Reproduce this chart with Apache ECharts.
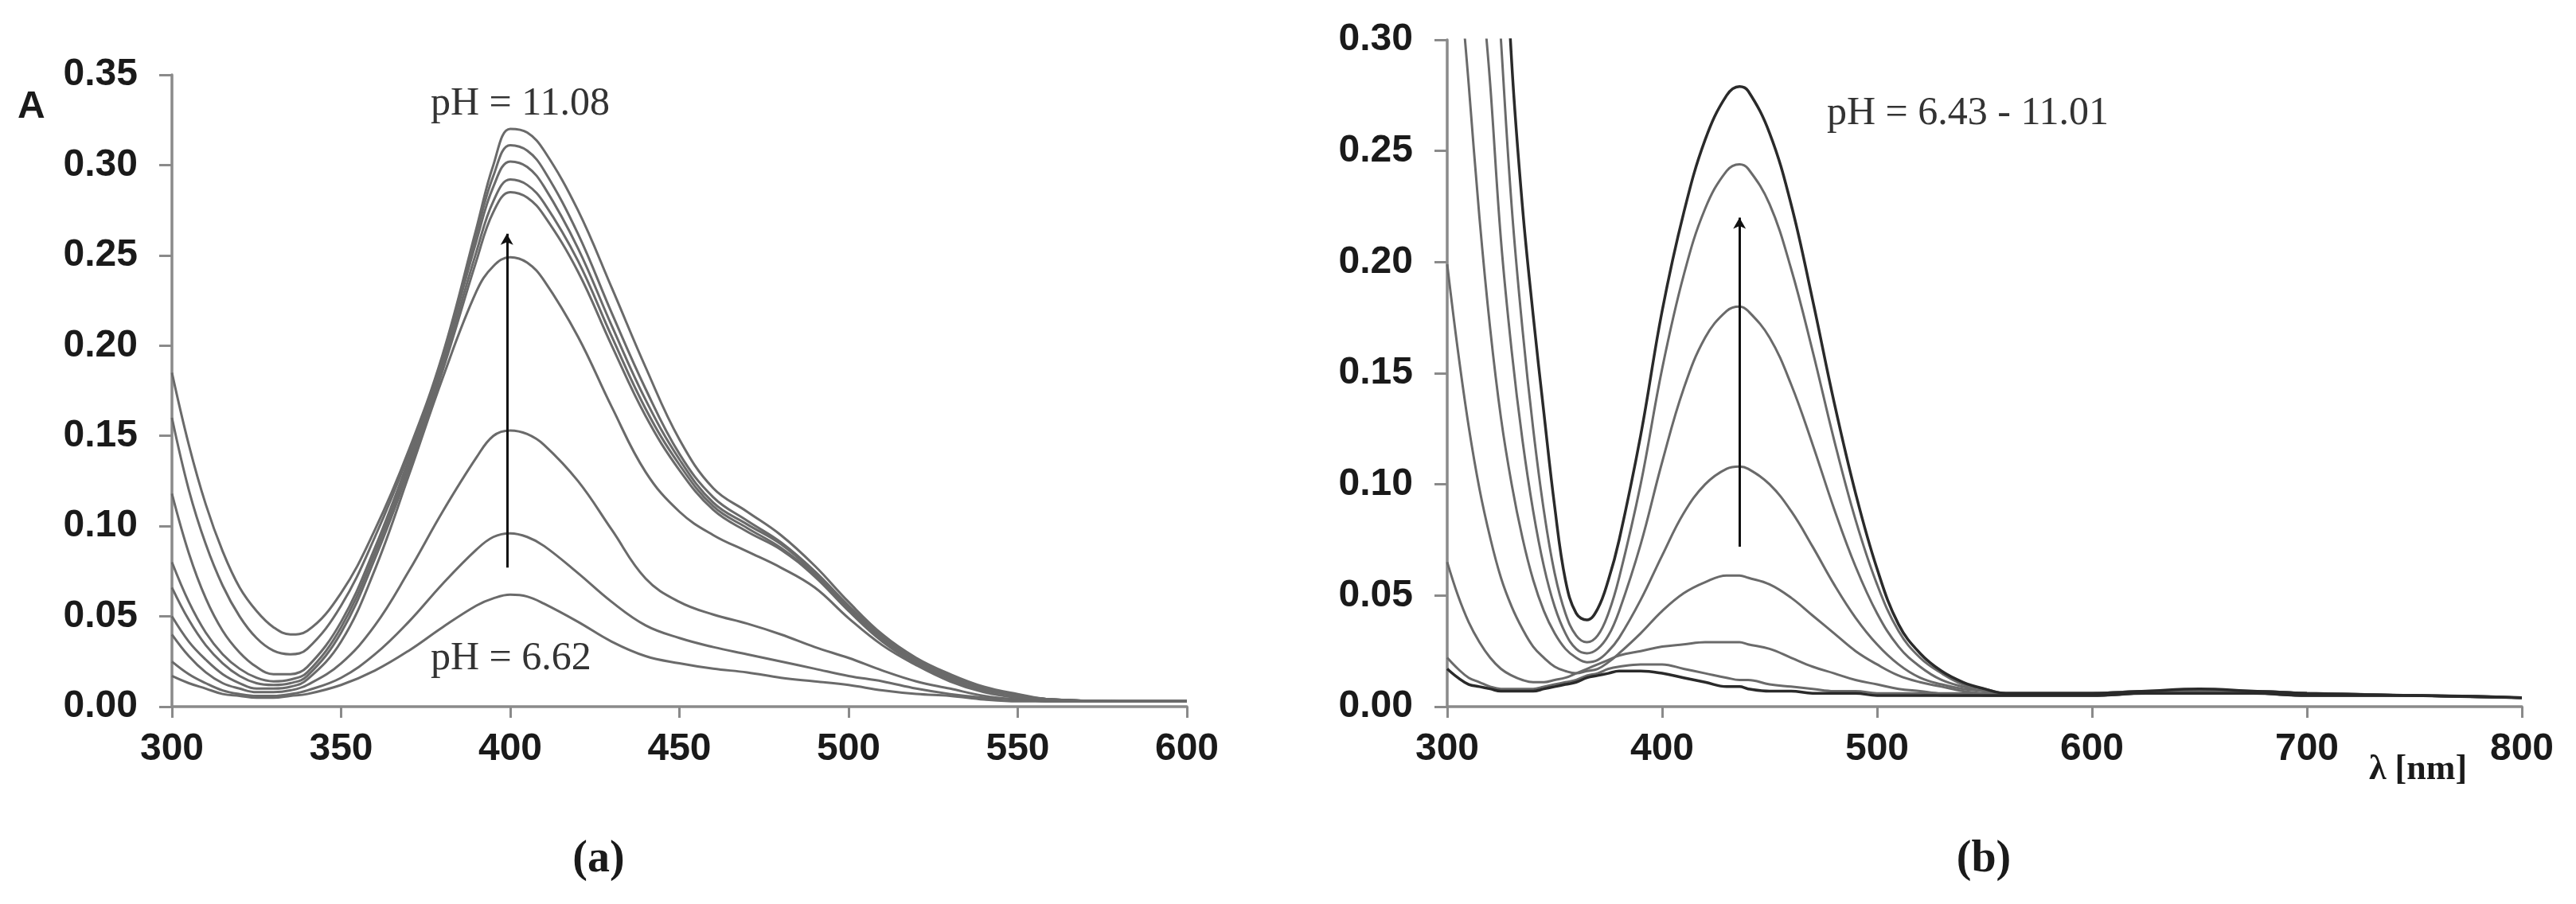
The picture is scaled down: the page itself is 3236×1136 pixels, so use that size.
<!DOCTYPE html>
<html>
<head>
<meta charset="utf-8">
<title>UV-Vis spectra</title>
<script src="https://cdn.jsdelivr.net/npm/echarts/dist/echarts.min.js"></script>
<style>
  html, body { margin: 0; padding: 0; background: #fff; }
  #chart { width: 3236px; height: 1136px; }
</style>
</head>
<body>
<div id="chart"></div>
<script>
// panel (a): wavelengths and absorbance, pH 11.08 down to pH 6.62
var waveA = [300,305,310,315,320,325,330,335,340,350,360,370,380,390,395,400,405,410,420,430,440,450,460,470,480,490,500,510,520,530,540,550,560,580,600];
var a1 = [0.185,0.145,0.112,0.086,0.066,0.053,0.044,0.040,0.042,0.063,0.098,0.142,0.195,0.265,0.300,0.320,0.318,0.308,0.275,0.232,0.188,0.148,0.121,0.108,0.095,0.078,0.058,0.040,0.027,0.018,0.011,0.007,0.004,0.003,0.003];
var a2 = [0.160,0.120,0.090,0.067,0.050,0.038,0.031,0.029,0.032,0.056,0.094,0.140,0.194,0.262,0.294,0.311,0.308,0.297,0.262,0.218,0.176,0.140,0.116,0.103,0.091,0.075,0.056,0.039,0.026,0.017,0.010,0.006,0.004,0.003,0.003];
var a3 = [0.118,0.085,0.060,0.042,0.030,0.022,0.018,0.018,0.022,0.047,0.088,0.137,0.192,0.258,0.288,0.302,0.299,0.288,0.254,0.211,0.170,0.137,0.113,0.101,0.090,0.074,0.055,0.038,0.026,0.017,0.010,0.006,0.004,0.003,0.003];
var a4 = [0.080,0.058,0.041,0.029,0.021,0.016,0.014,0.015,0.019,0.044,0.085,0.134,0.189,0.252,0.280,0.292,0.289,0.279,0.247,0.205,0.165,0.134,0.111,0.099,0.088,0.073,0.054,0.037,0.025,0.016,0.010,0.006,0.004,0.003,0.003];
var a5 = [0.066,0.048,0.034,0.024,0.017,0.013,0.012,0.013,0.017,0.041,0.082,0.131,0.186,0.247,0.274,0.285,0.282,0.272,0.241,0.200,0.161,0.131,0.109,0.097,0.087,0.072,0.053,0.036,0.024,0.015,0.009,0.006,0.004,0.003,0.003];
var a6 = [0.050,0.036,0.026,0.018,0.013,0.010,0.010,0.011,0.015,0.036,0.076,0.128,0.182,0.230,0.244,0.249,0.246,0.236,0.205,0.166,0.130,0.108,0.095,0.086,0.077,0.066,0.049,0.034,0.023,0.014,0.008,0.005,0.004,0.003,0.003];
var a7 = [0.040,0.028,0.019,0.013,0.010,0.008,0.008,0.009,0.012,0.024,0.045,0.075,0.108,0.138,0.150,0.153,0.151,0.145,0.125,0.098,0.071,0.058,0.051,0.046,0.040,0.033,0.027,0.020,0.014,0.010,0.006,0.004,0.003,0.003,0.003];
var a8 = [0.025,0.018,0.013,0.009,0.007,0.006,0.006,0.007,0.009,0.016,0.029,0.047,0.068,0.087,0.094,0.096,0.094,0.089,0.074,0.058,0.045,0.038,0.033,0.029,0.025,0.021,0.017,0.014,0.010,0.007,0.005,0.004,0.003,0.003,0.003];
var a9 = [0.017,0.013,0.010,0.007,0.006,0.005,0.005,0.006,0.007,0.012,0.020,0.031,0.044,0.056,0.060,0.062,0.061,0.057,0.047,0.036,0.028,0.024,0.021,0.019,0.016,0.014,0.012,0.009,0.007,0.006,0.004,0.003,0.003,0.003,0.003];

// panel (b): pH 11.01 down to pH 6.43
var waveB = [300,305,310,315,320,325,330,335,340,345,350,355,360,365,370,375,380,390,400,410,420,430,436,440,450,460,470,480,490,500,510,520,530,540,550,560,580,600,625,650,675,700,750,800];
var b1 = [1.10,0.95,0.80,0.65,0.50,0.39,0.29,0.225,0.176,0.132,0.090,0.057,0.042,0.039,0.044,0.057,0.075,0.122,0.178,0.222,0.255,0.275,0.279,0.277,0.258,0.226,0.183,0.137,0.096,0.062,0.037,0.024,0.016,0.011,0.008,0.006,0.006,0.006,0.007,0.008,0.007,0.006,0.005,0.004];
var b2 = [0.90,0.75,0.61,0.49,0.38,0.30,0.225,0.170,0.125,0.088,0.060,0.042,0.032,0.029,0.032,0.042,0.058,0.100,0.152,0.194,0.224,0.241,0.244,0.242,0.226,0.197,0.160,0.120,0.084,0.055,0.034,0.022,0.015,0.010,0.008,0.006,0.006,0.006,0.007,0.007,0.007,0.006,0.005,0.004];
var b3 = [0.70,0.54,0.43,0.34,0.28,0.21,0.16,0.12,0.088,0.063,0.045,0.033,0.026,0.024,0.026,0.032,0.043,0.073,0.110,0.143,0.166,0.178,0.180,0.178,0.166,0.145,0.118,0.089,0.063,0.042,0.027,0.018,0.012,0.009,0.007,0.006,0.006,0.006,0.007,0.007,0.007,0.006,0.005,0.004];
var b4 = [0.42,0.34,0.28,0.22,0.17,0.13,0.10,0.076,0.057,0.043,0.033,0.026,0.022,0.020,0.021,0.025,0.031,0.048,0.068,0.087,0.100,0.107,0.108,0.107,0.100,0.088,0.072,0.055,0.040,0.028,0.019,0.013,0.010,0.008,0.007,0.006,0.006,0.006,0.007,0.007,0.007,0.006,0.005,0.004];
var b5 = [0.199,0.160,0.126,0.098,0.076,0.058,0.045,0.035,0.027,0.022,0.018,0.016,0.015,0.016,0.017,0.020,0.024,0.033,0.043,0.051,0.056,0.059,0.059,0.058,0.055,0.049,0.041,0.033,0.025,0.019,0.014,0.011,0.009,0.007,0.006,0.006,0.006,0.006,0.006,0.007,0.006,0.006,0.005,0.004];
var b6 = [0.065,0.050,0.038,0.029,0.022,0.017,0.014,0.012,0.011,0.011,0.012,0.013,0.015,0.017,0.019,0.021,0.023,0.025,0.027,0.028,0.029,0.029,0.029,0.028,0.026,0.022,0.018,0.015,0.012,0.010,0.008,0.007,0.006,0.006,0.005,0.005,0.005,0.005,0.006,0.006,0.006,0.005,0.005,0.004];
var b7 = [0.022,0.017,0.013,0.011,0.009,0.008,0.008,0.008,0.008,0.009,0.010,0.011,0.012,0.014,0.015,0.017,0.018,0.019,0.019,0.017,0.015,0.013,0.012,0.012,0.010,0.009,0.008,0.007,0.007,0.006,0.006,0.006,0.005,0.005,0.005,0.005,0.005,0.005,0.006,0.006,0.006,0.005,0.005,0.004];
var b8 = [0.017,0.013,0.010,0.009,0.008,0.007,0.007,0.007,0.007,0.008,0.009,0.010,0.011,0.013,0.014,0.015,0.016,0.016,0.015,0.013,0.011,0.009,0.009,0.008,0.007,0.007,0.006,0.006,0.006,0.005,0.005,0.005,0.005,0.005,0.005,0.005,0.005,0.005,0.006,0.006,0.006,0.005,0.005,0.004];

// arrows (start, end) in data units
var arrowA = [[399, 0.077], [399, 0.262]];
var arrowB = [[436, 0.072], [436, 0.220]];

var curvesA = [a1, a2, a3, a4, a5, a6, a7, a8, a9];
var curvesB = [b1, b2, b3, b4, b5, b6, b7, b8];
var darkB = [0, 7];

var chart = echarts.init(document.getElementById('chart'), null, { renderer: 'canvas' });

var SANS = '"Liberation Sans", Arial, sans-serif';
var SERIF = '"Liberation Serif", "Times New Roman", serif';
var AXIS_GREY = '#8a8a8a';

function pairs(xs, ys) {
  return xs.map(function (x, i) { return [x, ys[i]]; });
}

function xAxisFor(idx, min, max, step) {
  return {
    type: 'value', gridIndex: idx, min: min, max: max, interval: step,
    axisLine: { show: true, onZero: false, lineStyle: { color: AXIS_GREY, width: 3.5 } },
    axisTick: { show: true, inside: false, length: 14, lineStyle: { color: AXIS_GREY, width: 3 } },
    axisLabel: { color: '#1a1a1a', fontFamily: SANS, fontWeight: 'bold', fontSize: 48, margin: 30 },
    splitLine: { show: false }
  };
}

function yAxisFor(idx, max) {
  return {
    type: 'value', gridIndex: idx, min: 0, max: max, interval: 0.05,
    axisLine: { show: true, onZero: false, lineStyle: { color: AXIS_GREY, width: 3.5 } },
    axisTick: { show: true, inside: false, length: 16, lineStyle: { color: AXIS_GREY, width: 3 } },
    axisLabel: {
      color: '#1a1a1a', fontFamily: SANS, fontWeight: 'bold', fontSize: 48, margin: 43,
      formatter: function (v) { return v.toFixed(2); }
    },
    splitLine: { show: false }
  };
}

var series = [];
curvesA.forEach(function (c) {
  series.push({
    type: 'line', xAxisIndex: 0, yAxisIndex: 0, data: pairs(waveA, c),
    smooth: 0.4, symbol: 'none', clip: true, z: 2,
    lineStyle: { color: '#6a6a6a', width: 3 }
  });
});
curvesB.forEach(function (c, i) {
  var dark = darkB.indexOf(i) >= 0;
  series.push({
    type: 'line', xAxisIndex: 1, yAxisIndex: 1, data: pairs(waveB, c),
    smooth: 0.4, symbol: 'none', clip: true, z: dark ? 3 : 2,
    lineStyle: { color: dark ? '#2a2a2a' : '#6a6a6a', width: dark ? 3.5 : 3 }
  });
});

function arrowSeries(ax, arrow) {
  return {
    type: 'line', xAxisIndex: ax, yAxisIndex: ax, data: [], z: 5,
    markLine: {
      silent: true, animation: false,
      symbol: ['none', 'arrow'], symbolSize: [12, 14],
      label: { show: false },
      lineStyle: { color: '#111', width: 3, type: 'solid' },
      data: [[{ coord: arrow[0] }, { coord: arrow[1] }]]
    }
  };
}
series.push(arrowSeries(0, arrowA));
series.push(arrowSeries(1, arrowB));

var option = {
  backgroundColor: '#ffffff',
  animation: false,
  grid: [
    { left: 216, top: 94, width: 1275, height: 794, containLabel: false },
    { left: 1818, top: 50, width: 1350, height: 838, containLabel: false }
  ],
  xAxis: [xAxisFor(0, 300, 600, 50), xAxisFor(1, 300, 800, 100)],
  yAxis: [yAxisFor(0, 0.35), yAxisFor(1, 0.30)],
  series: series,
  graphic: [
    { type: 'text', left: 22, top: 111, style: { text: 'A', font: 'bold 48px ' + SANS, fill: '#1a1a1a' } },
    { type: 'text', x: 541, y: 131, style: { text: 'pH = 11.08', font: '50px ' + SERIF, fill: '#333', verticalAlign: 'middle' } },
    { type: 'text', x: 541, y: 828, style: { text: 'pH = 6.62', font: '50px ' + SERIF, fill: '#333', verticalAlign: 'middle' } },
    { type: 'text', x: 2295, y: 143, style: { text: 'pH = 6.43 - 11.01', font: '50px ' + SERIF, fill: '#333', verticalAlign: 'middle' } },
    { type: 'text', x: 752, y: 1081, style: { text: '(a)', font: 'bold 56px ' + SERIF, fill: '#1a1a1a', align: 'center', verticalAlign: 'middle' } },
    { type: 'text', x: 2492, y: 1081, style: { text: '(b)', font: 'bold 56px ' + SERIF, fill: '#1a1a1a', align: 'center', verticalAlign: 'middle' } },
    { type: 'text', x: 2976, y: 968, style: { text: 'λ [nm]', font: 'bold 44px ' + SERIF, fill: '#1a1a1a', verticalAlign: 'middle' } }
  ]
};

chart.setOption(option);
</script>
</body>
</html>
